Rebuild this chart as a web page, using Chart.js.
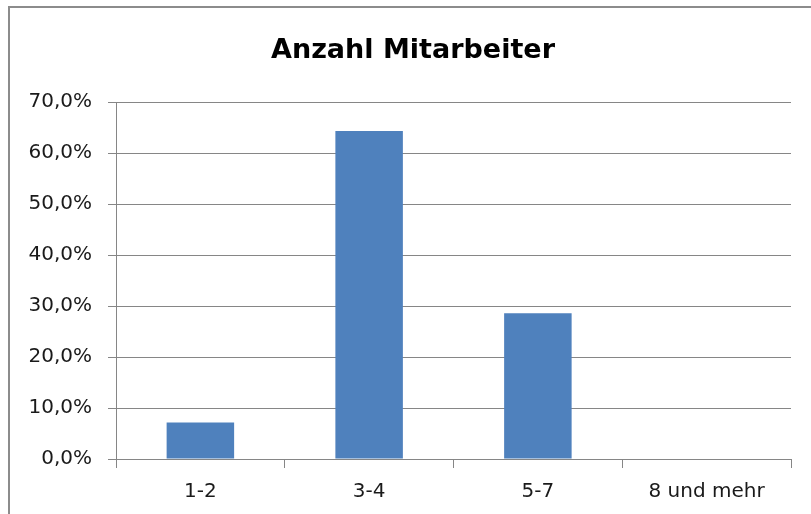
<!DOCTYPE html>
<html>
<head>
<meta charset="utf-8">
<script src="https://cdn.jsdelivr.net/npm/chart.js@4"></script>
<style>
  html, body { margin: 0; padding: 0; background: #fff; overflow: hidden; }
  #frame {
    position: absolute; left: 8px; top: 6px; width: 900px; height: 600px;
    border-left: 2px solid #8c8c8c; border-top: 2px solid #8c8c8c;
  }
  #wrap { position: absolute; left: 0; top: 0; width: 811px; height: 514px; }
</style>
</head>
<body>
<div id="frame"></div>
<div id="wrap"><canvas id="chart" width="811" height="514"></canvas></div>
<script>
const categories = ['1-2', '3-4', '5-7', '8 und mehr'];
const shares = [7.14, 64.29, 28.57, 0];
const yTicks = [0, 10, 20, 30, 40, 50, 60, 70];
const chartTitle = 'Anzahl Mitarbeiter';

const gridGray = '#868686';
const textColor = '#1a1a1a';

// the original title sits a bit right of the canvas centre, so draw it ourselves
const titlePlugin = {
  id: 'excelTitle',
  afterDraw(chart) {
    const c = chart.ctx;
    c.save();
    c.font = 'bold 27px "DejaVu Sans"';
    c.fillStyle = '#000';
    c.textAlign = 'center';
    c.textBaseline = 'alphabetic';
    c.fillText(chartTitle, 413, 58);
    c.restore();
  }
};

const ctx = document.getElementById('chart').getContext('2d');
new Chart(ctx, {
  type: 'bar',
  data: {
    labels: categories,
    datasets: [{
      data: shares,
      backgroundColor: '#4f81bd',
      borderWidth: 0,
      barPercentage: 0.4,
      categoryPercentage: 1.0
    }]
  },
  options: {
    responsive: false,
    animation: false,
    layout: { padding: { left: 0, right: 20, top: 102, bottom: 0 } },
    plugins: {
      legend: { display: false },
      tooltip: { enabled: false },
      title: { display: false }
    },
    scales: {
      x: {
        grid: { offset: true, drawOnChartArea: false, drawTicks: true, tickLength: 9, color: gridGray, lineWidth: 1 },
        border: { display: false },
        ticks: { color: textColor, font: { family: 'DejaVu Sans', size: 20 }, padding: 12 },
        afterFit: s => { s.height = 55; }
      },
      y: {
        min: 0,
        max: 70,
        afterBuildTicks: s => { s.ticks = yTicks.map(v => ({ value: v })); },
        grid: { color: gridGray, lineWidth: 1, tickLength: 8 },
        border: { display: true, color: gridGray, width: 1 },
        ticks: {
          color: textColor,
          font: { family: 'DejaVu Sans', size: 20 },
          padding: 16,
          callback: v => v.toFixed(1).replace('.', ',') + '%'
        },
        afterFit: s => { s.width = 116; }
      }
    }
  },
  plugins: [titlePlugin]
});
</script>
</body>
</html>
